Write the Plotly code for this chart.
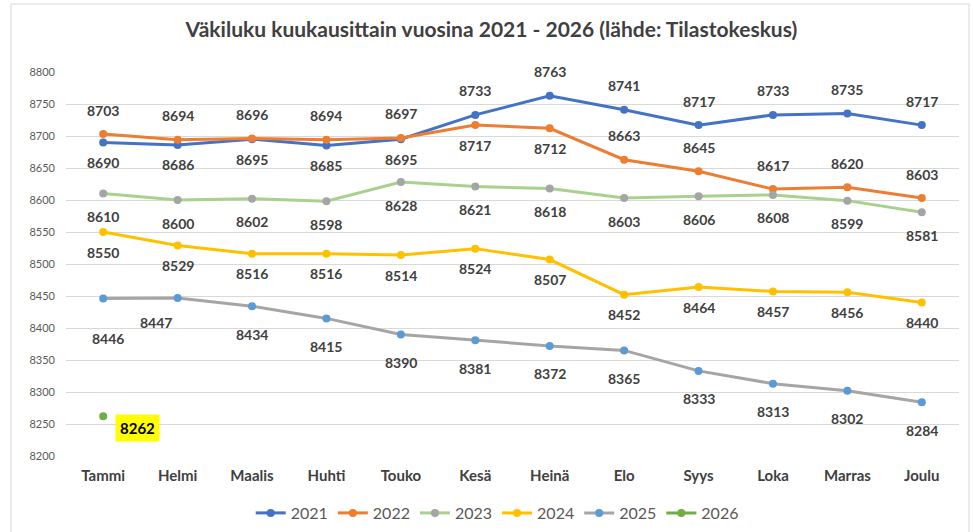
import plotly.graph_objects as go

months = ["Tammi", "Helmi", "Maalis", "Huhti", "Touko", "Kesä",
          "Heinä", "Elo", "Syys", "Loka", "Marras", "Joulu"]
years = ["2021", "2022", "2023", "2024", "2025", "2026"]

v2021 = [8690, 8686, 8695, 8685, 8695, 8733, 8763, 8741, 8717, 8733, 8735, 8717]
v2022 = [8703, 8694, 8696, 8694, 8697, 8717, 8712, 8663, 8645, 8617, 8620, 8603]
v2023 = [8610, 8600, 8602, 8598, 8628, 8621, 8618, 8603, 8606, 8608, 8599, 8581]
v2024 = [8550, 8529, 8516, 8516, 8514, 8524, 8507, 8452, 8464, 8457, 8456, 8440]
v2025 = [8446, 8447, 8434, 8415, 8390, 8381, 8372, 8365, 8333, 8313, 8302, 8284]
v2026 = [8262]

series = [v2021, v2022, v2023, v2024, v2025, v2026]

# styling (not data)
line_colors = ["#4472C4", "#ED7D31", "#A9D18E", "#FFC000", "#A5A5A5", "#70AD47"]
marker_colors = ["#4472C4", "#ED7D31", "#A5A5A5", "#FFC000", "#5B9BD5", "#70AD47"]
# label placement per point: 'a' above, 'b' below
label_pos = [
    "bbbbbaaaaaaa",
    "aaaaabbaaaaa",
    "bbbbbbbbbbbb",
    "bbbbbbbbbbbb",
    "bbbbbbbbbbbb",
]
shift_above = [24, 24, 24, 24, 24]
shift_below = [-20, -20, -23, -20, -28]
special = {(4, 0): (5, -40), (4, 1): (-22, -25)}

FONT = "Lato, 'Open Sans', sans-serif"

fig = go.Figure()
for i, (name, vals) in enumerate(zip(years, series)):
    fig.add_trace(go.Scatter(
        x=months[:len(vals)], y=vals, name=name, mode="lines+markers",
        line=dict(color=line_colors[i], width=3),
        marker=dict(color=marker_colors[i], size=8),
        hoverinfo="x+y+name",
    ))

annotations = []
for i, vals in enumerate(series[:5]):
    for j, v in enumerate(vals):
        if (i, j) in special:
            xs, ys = special[(i, j)]
        else:
            xs = 0
            ys = shift_above[i] if label_pos[i][j] == "a" else shift_below[i]
        annotations.append(dict(
            x=months[j], y=v, xref="x", yref="y", text=str(v), showarrow=False,
            xshift=xs, yshift=ys,
            font=dict(family=FONT, size=14, color="#404040", weight="bold"),
        ))

# 2026 highlighted label
annotations.append(dict(
    x=months[0], y=v2026[0], xref="x", yref="y", text=str(v2026[0]), showarrow=False,
    xshift=34, yshift=-12, bgcolor="#FFFF00", borderpad=4,
    font=dict(family=FONT, size=15, color="#000000", weight="bold"),
))

fig.update_layout(
    width=973, height=532,
    paper_bgcolor="white", plot_bgcolor="white",
    margin=dict(l=66, r=14, t=72, b=70),
    title=dict(
        text="<b>Väkiluku kuukausittain vuosina 2021 - 2026 (lähde: Tilastokeskus)</b>",
        x=0.505, xanchor="center", y=1 - 30 / 532, yanchor="middle",
        xref="container", yref="container",
        font=dict(family=FONT, size=21, color="#404040"),
    ),
    xaxis=dict(
        type="category", showgrid=False, showline=False, zeroline=False,
        range=[-0.5, len(months) - 0.5],
        tickfont=dict(family=FONT, size=15, color="#404040", weight="bold"),
        ticklabelstandoff=9, ticks="",
    ),
    yaxis=dict(
        range=[8200, 8800], dtick=50, tick0=8200,
        showgrid=True, gridcolor="#D9D9D9", gridwidth=1,
        showline=False, zeroline=False,
        tickfont=dict(family=FONT, size=11, color="#595959"),
        ticklabelstandoff=10, ticks="",
    ),
    legend=dict(
        orientation="h", xref="container", yref="container",
        x=0.511, xanchor="center", y=(532 - 513) / 532, yanchor="middle",
        font=dict(family=FONT, size=16, color="#595959"),
        traceorder="normal", itemwidth=30,
    ),
    annotations=annotations,
    shapes=[dict(
        type="rect", xref="paper", yref="paper",
        x0=(11 - 66) / 893, x1=(969 - 66) / 893,
        y0=-0.3, y1=(462 - 3) / 390,
        line=dict(color="#D9D9D9", width=1), fillcolor="rgba(0,0,0,0)",
        layer="below",
    )],
    showlegend=True,
)

fig.write_html("out.html", config={"displayModeBar": False},
               post_script="document.body.style.margin='0';")
